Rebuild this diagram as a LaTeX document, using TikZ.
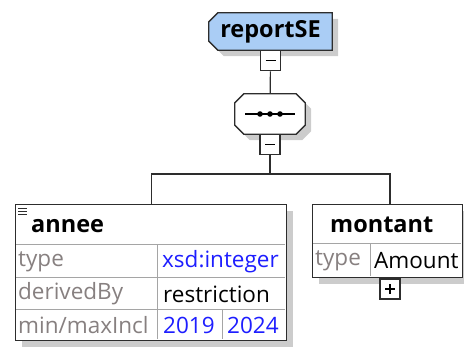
\documentclass[tikz,border=0pt]{standalone}
\usepackage{fontspec}
\setmainfont{Open Sans}
\usetikzlibrary{backgrounds, shadows}
\definecolor{elemblue}{RGB}{170,205,245}
\definecolor{labelgray}{RGB}{135,128,128}
\definecolor{valblue}{RGB}{30,30,255}
\definecolor{framegray}{RGB}{45,45,45}
\definecolor{cellgray}{RGB}{165,165,165}
\tikzstyle{dropshade} = [drop shadow={shadow xshift=6pt,shadow yshift=-6pt,fill=black!20,opacity=1}]
\tikzstyle{elem} = [draw=framegray,line width=1.3pt,fill=white,dropshade]
\tikzstyle{tgl} = [draw=framegray,line width=1.2pt,fill=white,minimum size=20pt,inner sep=0pt]
\tikzstyle{lbl} = [anchor=west,inner sep=0pt,text=labelgray]
\tikzstyle{val} = [anchor=west,inner sep=0pt]
\tikzstyle{cell} = [draw=cellgray,line width=1pt]

\begin{document}
\begin{tikzpicture}[x=1pt,y=-1pt,font=\fontsize{22.5}{26}\selectfont]
        \useasboundingbox (0,0) rectangle (464,346);
        \clip (0,0) rectangle (464,346);
        % root element
        \node (root) [minimum width=123pt,minimum height=37pt,inner sep=0pt,font=\fontsize{23.5}{26}\selectfont\bfseries] at (270.5,31.5) {reportSE};
        \begin{scope}[on background layer]
        \draw[elem,fill=elemblue] ([xshift=9pt]root.north west) -- (root.north east) -- (root.south east) -- ([xshift=9pt]root.south west) -- ([yshift=9pt]root.south west) -- ([yshift=-9pt]root.north west) -- cycle;
        \end{scope}
        \node (tglA) [tgl,anchor=north] at (root.south) {};
        \draw[line width=1.3pt] ([xshift=-5pt]tglA.center) -- ([xshift=5pt]tglA.center);
        % sequence
        \node (seq) [minimum width=70pt,minimum height=40pt,inner sep=0pt] at (270,114) {};
        \begin{scope}[on background layer]
        \draw[elem] ([xshift=9pt]seq.north west) -- ([xshift=-9pt]seq.north east) -- ([yshift=-9pt]seq.north east) -- ([yshift=9pt]seq.south east) -- ([xshift=-9pt]seq.south east) -- ([xshift=9pt]seq.south west) -- ([yshift=9pt]seq.south west) -- ([yshift=-9pt]seq.north west) -- cycle;
        \end{scope}
        \draw[line width=1.1pt] ([xshift=-25pt]seq.center) -- ([xshift=25pt]seq.center);
        \foreach \dx in {-10,0,10}
            \fill ([xshift=\dx pt]seq.center) circle (2.8pt);
        \node (tglB) [tgl,anchor=north] at (seq.south) {};
        \draw[line width=1.3pt] ([xshift=-5pt]tglB.center) -- ([xshift=5pt]tglB.center);
        \coordinate (fork) at (270,174);
        % annee
        \node (annee) [elem,inner sep=0pt,anchor=north west,minimum width=271pt,minimum height=136pt] at (15,204) {};
        \draw[cell] (16,244) -- (285,244);
        \draw[cell] (16,277) -- (285,277);
        \draw[cell] (16,309) -- (285,309);
        \draw[cell] (157,244) -- (157,339);
        \draw[cell] (222,309) -- (222,339);
        \foreach \y in {208,211,214}
            \draw[line width=1pt,framegray] (18,\y) -- (27,\y);
        \node (anneeName) [val,font=\fontsize{23.5}{26}\selectfont\bfseries] at (31,226) {annee};
        \node (anneeType) [lbl] at (18,262) {type};
        \node (anneeTypeVal) [val,text=valblue] at (162,262) {xsd:integer};
        \node (anneeDer) [lbl] at (18,294) {derivedBy};
        \node (anneeDerVal) [val] at (163,294) {restriction};
        \node (anneeRange) [lbl] at (18,325) {min/maxIncl};
        \node (anneeMin) [val,text=valblue] at (163,325) {2019};
        \node (anneeMax) [val,text=valblue] at (227,325) {2024};
        % montant
        \node (montant) [elem,inner sep=0pt,anchor=north west,minimum width=150pt,minimum height=73pt] at (312,204) {};
        \draw[cell] (313,243) -- (461,243);
        \draw[cell] (370,243) -- (370,276);
        \node (montantName) [val,font=\fontsize{23.5}{26}\selectfont\bfseries] at (330,225) {montant};
        \node (montantType) [lbl] at (315,261) {type};
        \node (montantTypeVal) [val] at (374,261) {Amount};
        \node (plusA) [tgl,anchor=north] at ([xshift=78pt]montant.south west) {};
        \draw[line width=1.3pt] ([xshift=-5pt]plusA.center) -- ([xshift=5pt]plusA.center);
        \draw[line width=1.3pt] ([yshift=-5pt]plusA.center) -- ([yshift=5pt]plusA.center);
        % connectors
        \draw[line width=1.2pt,framegray] (tglA) -- (seq);
        \draw[line width=1.2pt,framegray] (tglB) -- (fork);
        \draw[line width=1.2pt,framegray] (annee.north) |- (fork) -| ([xshift=78pt]montant.north west);
\end{tikzpicture}
\end{document}
